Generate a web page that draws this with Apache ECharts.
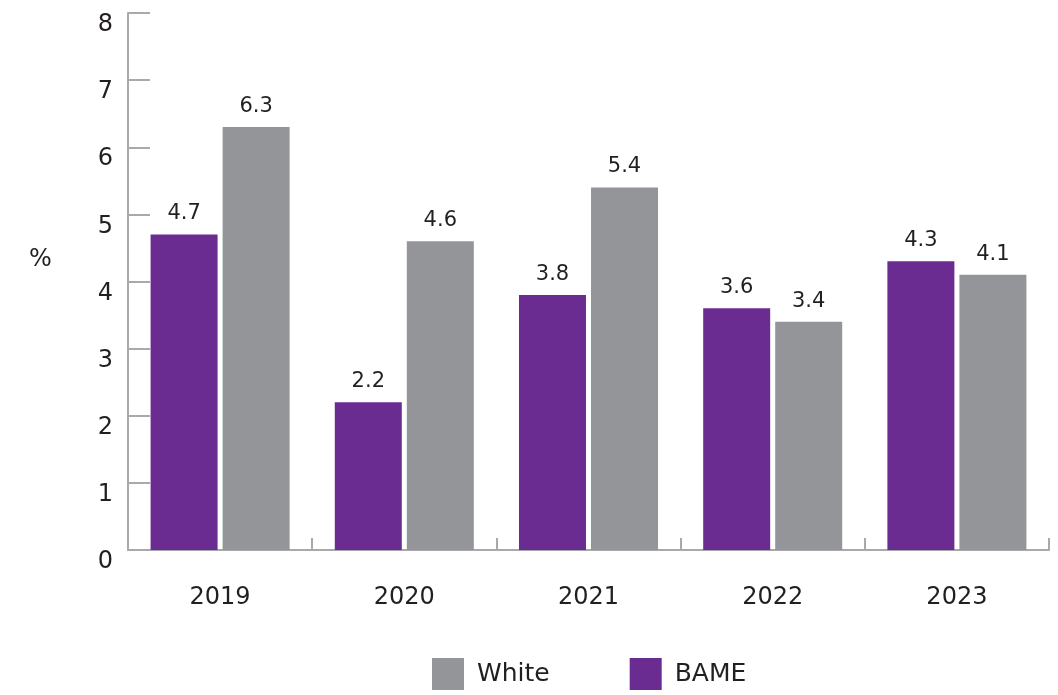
<!DOCTYPE html>
<html>
<head>
<meta charset="utf-8">
<script src="https://cdn.jsdelivr.net/npm/echarts@6/dist/echarts.min.js"></script>
<style>
  html, body { margin: 0; padding: 0; background: #fff; }
  #chart { width: 1058px; height: 695px; }
</style>
</head>
<body>
<div id="chart"></div>
<script>
// Years on the category axis
const years = ['2019', '2020', '2021', '2022', '2023'];
// Percentage values per group
const bameValues = [4.7, 2.2, 3.8, 3.6, 4.3];
const whiteValues = [6.3, 4.6, 5.4, 3.4, 4.1];
// Legend order as shown under the chart
const legendOrder = ['White', 'BAME'];

const PURPLE = '#6B2C91';
const GREY = '#939598';
const AXIS = '#A7A9AC';
const TEXT = '#231F20';
const FONT = 'DejaVu Sans';

const chart = echarts.init(document.getElementById('chart'));

const labelStyle = {
  show: true,
  position: 'top',
  distance: 10,
  color: TEXT,
  fontFamily: FONT,
  fontSize: 21
};

chart.setOption({
  animation: false,
  grid: { left: 128, right: 9, top: 13, bottom: 145 },
  legend: {
    data: legendOrder,
    left: 427,
    bottom: 0,
    itemWidth: 32,
    itemHeight: 32,
    itemGap: 80,
    icon: 'rect',
    textStyle: { color: TEXT, fontFamily: FONT, fontSize: 25, padding: [0, 0, 0, 8] }
  },
  graphic: [{
    type: 'text',
    left: 29,
    top: 248,
    style: { text: '%', fill: TEXT, font: '24px "DejaVu Sans"' }
  }],
  xAxis: {
    type: 'category',
    data: years,
    axisLine: { lineStyle: { color: AXIS, width: 2 } },
    axisTick: { show: true, inside: true, length: 12, alignWithLabel: false, lineStyle: { color: AXIS, width: 2 } },
    axisLabel: { color: TEXT, fontFamily: FONT, fontSize: 24, margin: 36 }
  },
  yAxis: {
    type: 'value',
    min: 0,
    max: 8,
    interval: 1,
    splitLine: { show: false },
    axisLine: { show: true, lineStyle: { color: AXIS, width: 2 } },
    axisTick: { show: true, inside: true, length: 22, lineStyle: { color: AXIS, width: 2 } },
    axisLabel: {
      color: TEXT, fontFamily: FONT, fontSize: 24, margin: 15,
      verticalAlign: 'top', padding: [0, 0, 0, 0]
    }
  },
  series: [
    {
      name: 'BAME',
      type: 'bar',
      data: bameValues,
      barWidth: 67,
      barGap: '7.5%',
      itemStyle: { color: PURPLE },
      label: labelStyle
    },
    {
      name: 'White',
      type: 'bar',
      data: whiteValues,
      barWidth: 67,
      barGap: '7.5%',
      itemStyle: { color: GREY },
      label: labelStyle
    }
  ]
});
</script>
</body>
</html>
